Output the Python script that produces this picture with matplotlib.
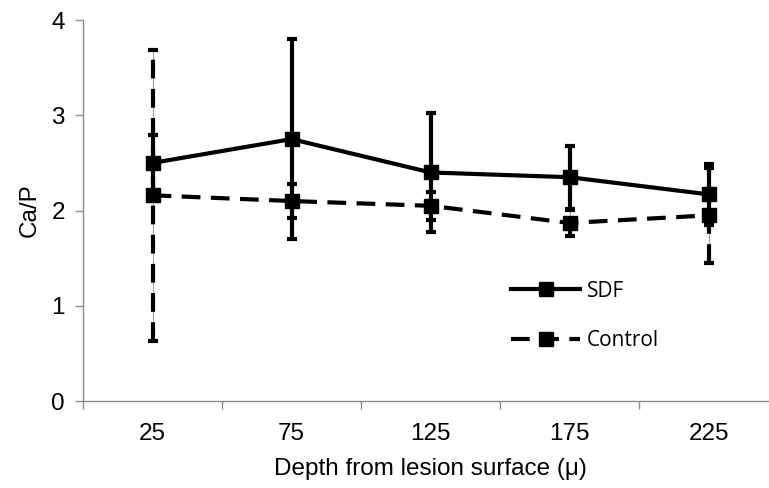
import matplotlib
matplotlib.use("Agg")
import matplotlib.pyplot as plt
from matplotlib.lines import Line2D
import numpy as np

# data
depths = ["25", "75", "125", "175", "225"]
sdf = [2.50, 2.75, 2.40, 2.35, 2.17]
sdf_err = [0.29, 1.05, 0.62, 0.33, 0.32]
control = [2.16, 2.10, 2.05, 1.87, 1.95]
control_err = [1.53, 0.18, 0.15, 0.14, 0.50]

plt.rcParams['font.family'] = ['Liberation Sans', 'DejaVu Sans']

fig = plt.figure(figsize=(7.69, 4.88), dpi=100)
ax = fig.add_axes([0.108, 0.178, 0.9038, 0.781])

x = np.arange(len(depths))
dash = (0, (4.5, 2.5))

# sdf, solid line
ax.errorbar(x, sdf, yerr=sdf_err, color='black', lw=3, marker='s', ms=9.5,
            elinewidth=3, capsize=3.5, capthick=3, zorder=3)

# control, dashed line and dashed error bars with thin gray core
ax.vlines(x, np.array(control) - control_err, np.array(control) + control_err,
          color='#a0a0a0', lw=0.8, zorder=1)
cl = ax.errorbar(x, control, yerr=control_err, color='black', lw=3, marker='s',
                 ms=9.5, elinewidth=3, capsize=3.5, capthick=3, ls=dash,
                 zorder=2)
cl[2][0].set_linestyle(dash)

ax.set_xlim(-0.5, len(depths) - 0.5)
ax.set_ylim(0, 4)
ax.set_yticks([0, 1, 2, 3, 4])
ax.set_xticks(x)
ax.set_xticklabels(depths)
ax.set_xticks(np.arange(-0.5, len(depths), 1), minor=True)
ax.tick_params(axis='x', which='major', length=0, pad=16, labelsize=17.5)
ax.tick_params(axis='x', which='minor', length=6, color='#8c8c8c', width=1)
ax.tick_params(axis='y', length=6, color='#8c8c8c', width=1, labelsize=17.5, pad=7)

for side in ['top', 'right']:
    ax.spines[side].set_visible(False)
for side in ['left', 'bottom']:
    ax.spines[side].set_color('#8c8c8c')
    ax.spines[side].set_linewidth(1)

ax.set_xlabel("Depth from lesion surface (μ)", fontsize=17.5, labelpad=9)
ax.set_ylabel("Ca/P", fontsize=17.5, labelpad=8)

handles = [
    Line2D([], [], color='black', lw=3, marker='s', ms=9.5),
    Line2D([], [], color='black', lw=3, marker='s', ms=9.5, ls=dash),
]
ax.legend(handles, ['SDF', 'Control'], loc='upper left',
          bbox_to_anchor=(0.589, 0.365), frameon=False,
          handlelength=3.3, handletextpad=0.35, labelspacing=1.35,
          prop={'family': 'Open Sans', 'size': 15})

fig.savefig("out.png", dpi=100)
